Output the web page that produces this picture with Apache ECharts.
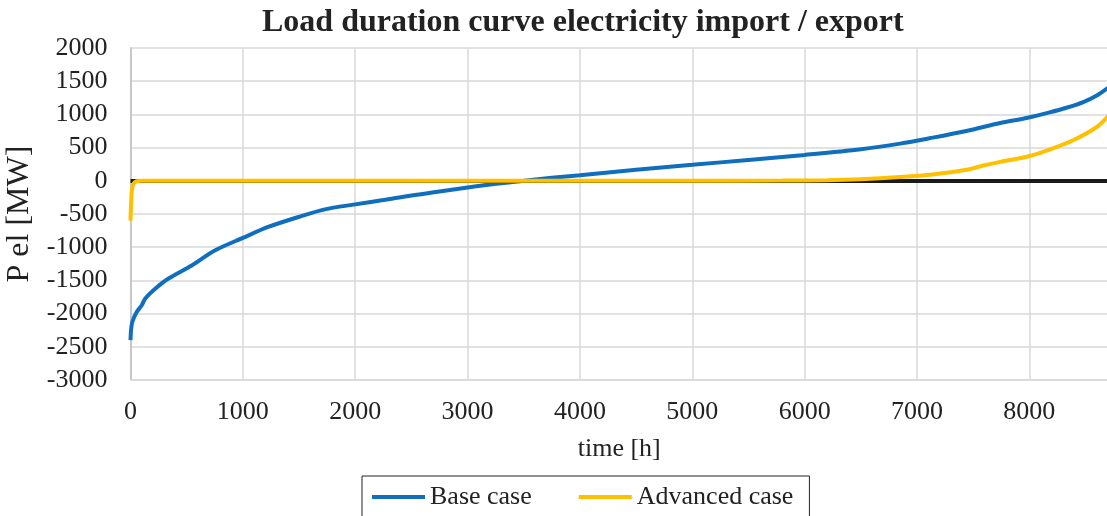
<!DOCTYPE html>
<html>
<head>
<meta charset="utf-8">
<script src="https://cdn.jsdelivr.net/npm/echarts@6/dist/echarts.min.js"></script>
<style>
  html, body { margin: 0; padding: 0; background: #fff; }
  #chart { width: 1107px; height: 516px; }
</style>
</head>
<body>
<div id="chart"></div>
<script>
const titleText = 'Load duration curve electricity import / export';
const seriesNames = ['Base case', 'Advanced case'];
const xAxisName = 'time [h]';
const yAxisName = 'P el [MW]';

const baseHours = [0, 5, 16, 55, 100, 130, 220, 335, 545, 750, 1000, 1225, 1495, 1730, 2000, 2250, 2500, 2750, 3000, 3250, 3500, 3750, 4000, 4500, 5000, 5500, 6000, 6500, 6850, 7140, 7440, 7590, 7740, 7985, 8180, 8330, 8480, 8600, 8700];
const baseValues = [-2400, -2250, -2127, -1976, -1875, -1775, -1625, -1475, -1275, -1050, -860, -695, -545, -430, -355, -290, -220, -160, -100, -45, 0, 45, 85, 165, 240, 315, 390, 475, 560, 650, 750, 810, 870, 950, 1030, 1100, 1185, 1285, 1400];

const advHours = [0, 5, 12, 25, 50, 100, 1000, 3000, 5000, 5800, 6200, 6500, 6850, 7140, 7440, 7590, 7740, 7985, 8180, 8390, 8600, 8700];
const advValues = [-600, -350, -150, -50, -10, 0, 0, 0, 0, 3, 10, 25, 57, 95, 165, 230, 285, 365, 470, 610, 810, 970];

const font = 'Liberation Serif';
const textColor = '#222';

function pairs(xs, ys) { return xs.map((x, i) => [x, ys[i]]); }

const chart = echarts.init(document.getElementById('chart'), null, { renderer: 'canvas' });
chart.setOption({
  animation: false,
  backgroundColor: '#fff',
  title: {
    text: titleText,
    left: 257,
    top: 2,
    textStyle: { fontFamily: font, fontWeight: 'bold', fontSize: 32, color: textColor }
  },
  legend: {
    data: seriesNames,
    left: 362,
    top: 476,
    padding: [8, 16, 10, 10],
    borderColor: '#222',
    borderWidth: 1,
    itemWidth: 53,
    itemHeight: 4,
    itemGap: 47,
    icon: 'rect',
    textStyle: { fontFamily: font, fontSize: 26, color: textColor }
  },
  grid: { left: 130.5, right: -1, top: 48, bottom: 136, containLabel: false, outerBoundsMode: 'none' },
  xAxis: {
    type: 'value',
    min: 0,
    max: 8700,
    interval: 1000,
    name: xAxisName,
    nameLocation: 'middle',
    nameGap: 56,
    nameTextStyle: { fontFamily: font, fontSize: 26, color: textColor },
    axisLine: { onZero: false, lineStyle: { color: '#d9d9d9', width: 1.5 } },
    axisTick: { show: false },
    axisLabel: {
      fontFamily: font, fontSize: 26, color: textColor, margin: 19, showMaxLabel: false,
      formatter: v => String(v)
    },
    splitLine: { show: true, lineStyle: { color: '#d9d9d9', width: 1.5 } }
  },
  yAxis: {
    type: 'value',
    min: -3000,
    max: 2000,
    interval: 500,
    name: yAxisName,
    nameLocation: 'middle',
    nameGap: 90,
    nameTextStyle: { fontFamily: font, fontSize: 32, color: textColor },
    axisLine: { show: true, lineStyle: { color: '#bfbfbf', width: 1.5 } },
    axisTick: { show: false },
    axisLabel: {
      fontFamily: font, fontSize: 26, color: textColor, margin: 23,
      formatter: v => String(v)
    },
    splitLine: { show: true, lineStyle: { color: '#d9d9d9', width: 1.5 } }
  },
  series: [
    {
      name: seriesNames[0],
      type: 'line',
      data: pairs(baseHours, baseValues),
      showSymbol: false,
      smooth: 0.3,
      color: '#0F6EBD',
      lineStyle: { width: 4, color: '#0F6EBD' },
      z: 2,
      markLine: {
        silent: true,
        symbol: ['none', 'none'],
        label: { show: false },
        lineStyle: { color: '#1a1a1a', width: 4, type: 'solid' },
        data: [{ yAxis: 0 }]
      }
    },
    {
      name: seriesNames[1],
      type: 'line',
      data: pairs(advHours, advValues),
      showSymbol: false,
      smooth: 0.3,
      color: '#FFC000',
      lineStyle: { width: 4, color: '#FFC000' },
      z: 5
    }
  ]
});
</script>
</body>
</html>
